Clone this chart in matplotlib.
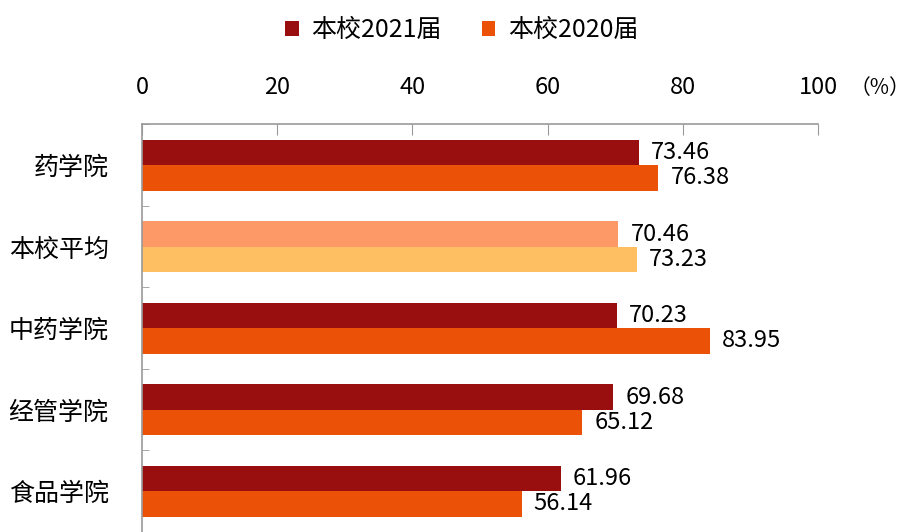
import matplotlib.pyplot as plt
import numpy as np

plt.rcParams['font.family'] = ['Noto Sans CJK SC', 'DejaVu Sans']

categories = ['药学院', '本校平均', '中药学院', '经管学院', '食品学院']
vals_2021 = [73.46, 70.46, 70.23, 69.68, 61.96]
vals_2020 = [76.38, 73.23, 83.95, 65.12, 56.14]

c2021 = '#990F0F'
c2020 = '#EB5208'
c2021_avg = '#FD9966'
c2020_avg = '#FDBF62'

fig = plt.figure(figsize=(9.14, 5.32), dpi=100)
ax = fig.add_axes([0.1554, 0.0, 0.7396, 0.766])

y = np.arange(len(categories))
h = 0.31
cols_a = [c2021_avg if c == '本校平均' else c2021 for c in categories]
cols_b = [c2020_avg if c == '本校平均' else c2020 for c in categories]

ax.barh(y - h / 2, vals_2021, height=h, color=cols_a, label='本校2021届')
ax.barh(y + h / 2, vals_2020, height=h, color=cols_b, label='本校2020届')

# 数据标签
for yi, v in zip(y, vals_2021):
    ax.text(v + 1.8, yi - h / 2, '%.2f' % v, va='center', ha='left', fontsize=17)
for yi, v in zip(y, vals_2020):
    ax.text(v + 1.8, yi + h / 2, '%.2f' % v, va='center', ha='left', fontsize=17)

ax.set_xlim(0, 100)
ax.set_ylim(len(categories) - 0.5, -0.5)
ax.xaxis.tick_top()
ax.set_xticks(np.arange(0, 101, 20))
ax.tick_params(axis='x', direction='in', length=8, color='#999999', pad=18, labelsize=17)
ax.set_yticks(y)
ax.set_yticklabels(categories, fontsize=18)
ax.set_yticks(np.arange(-0.5, len(categories), 1), minor=True)
ax.tick_params(axis='y', which='major', length=0, pad=24)
ax.tick_params(axis='y', which='minor', direction='in', length=5, color='#999999')

for s in ['right', 'bottom']:
    ax.spines[s].set_visible(False)
for s in ['top', 'left']:
    ax.spines[s].set_color('#999999')
    ax.spines[s].set_linewidth(1.2)

ax.text(1.136, 1.09, '（%）', transform=ax.transAxes, fontsize=15, ha='right', va='center')
fig.legend(loc='upper center', bbox_to_anchor=(0.505, 1.01), ncol=2, frameon=False,
           fontsize=18, handlelength=0.55, handleheight=0.55, columnspacing=1.6,
           handletextpad=0.5)

fig.savefig('out.png', dpi=100)
